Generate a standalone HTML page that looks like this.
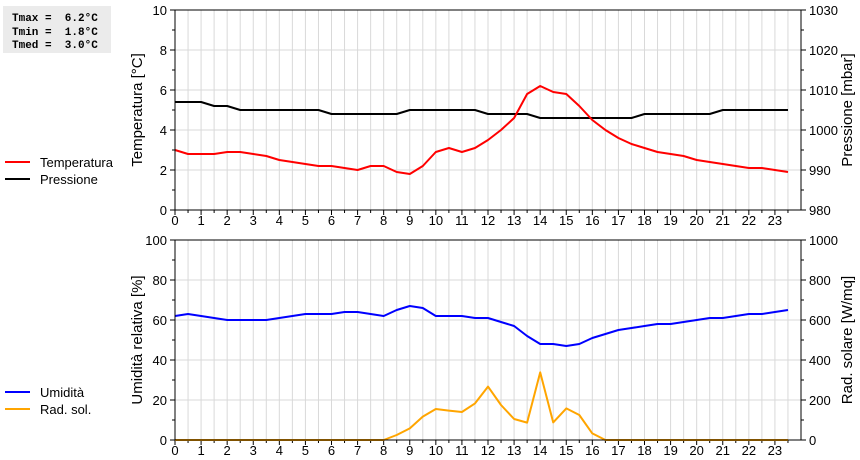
<!DOCTYPE html>
<html><head><meta charset="utf-8"><style>
body{margin:0;background:#fff;width:860px;height:460px;overflow:hidden;font-family:"Liberation Sans",sans-serif}
svg{display:block}
</style></head><body>
<svg id="c" width="860" height="460" xmlns="http://www.w3.org/2000/svg" font-family="Liberation Sans, sans-serif" font-size="13">
<rect x="3" y="6" width="108" height="47" fill="#ebebeb"/>
<g font-family="Liberation Mono, monospace" font-weight="bold" font-size="11" fill="#000">
<text x="12" y="21" xml:space="preserve">Tmax =  6.2°C</text>
<text x="12" y="35" xml:space="preserve">Tmin =  1.8°C</text>
<text x="12" y="48" xml:space="preserve">Tmed =  3.0°C</text>
</g>
<g>
<line x1="5" y1="162" x2="30" y2="162" stroke="#f00" stroke-width="2"/><text x="40" y="167">Temperatura</text>
<line x1="5" y1="179" x2="30" y2="179" stroke="#000" stroke-width="2"/><text x="40" y="184">Pressione</text>
</g>
<g>
<line x1="5" y1="392" x2="30" y2="392" stroke="#00f" stroke-width="2"/><text x="40" y="397">Umidità</text>
<line x1="5" y1="409" x2="30" y2="409" stroke="#ffa500" stroke-width="2"/><text x="40" y="414">Rad. sol.</text>
</g>
<text transform="translate(142,110) rotate(-90)" text-anchor="middle" font-size="15">Temperatura [°C]</text>
<text transform="translate(852,110) rotate(-90)" text-anchor="middle" font-size="15">Pressione [mbar]</text>
<text transform="translate(142,340) rotate(-90)" text-anchor="middle" font-size="15">Umidità relativa [%]</text>
<text transform="translate(852,340) rotate(-90)" text-anchor="middle" font-size="15">Rad. solare [W/mq]</text>
</svg>
<script>
const hours=[0,0.5,1,1.5,2,2.5,3,3.5,4,4.5,5,5.5,6,6.5,7,7.5,8,8.5,9,9.5,10,10.5,11,11.5,12,12.5,13,13.5,14,14.5,15,15.5,16,16.5,17,17.5,18,18.5,19,19.5,20,20.5,21,21.5,22,22.5,23,23.5];
const temperatura=[3.0,2.8,2.8,2.8,2.9,2.9,2.8,2.7,2.5,2.4,2.3,2.2,2.2,2.1,2.0,2.2,2.2,1.9,1.8,2.2,2.9,3.1,2.9,3.1,3.5,4.0,4.6,5.8,6.2,5.9,5.8,5.2,4.5,4.0,3.6,3.3,3.1,2.9,2.8,2.7,2.5,2.4,2.3,2.2,2.1,2.1,2.0,1.9];
const pressione=[1007,1007,1007,1006,1006,1005,1005,1005,1005,1005,1005,1005,1004,1004,1004,1004,1004,1004,1005,1005,1005,1005,1005,1005,1004,1004,1004,1004,1003,1003,1003,1003,1003,1003,1003,1003,1004,1004,1004,1004,1004,1004,1005,1005,1005,1005,1005,1005];
const umidita=[62,63,62,61,60,60,60,60,61,62,63,63,63,64,64,63,62,65,67,66,62,62,62,61,61,59,57,52,48,48,47,48,51,53,55,56,57,58,58,59,60,61,61,62,63,63,64,65];
const radiazione=[0,0,0,0,0,0,0,0,0,0,0,0,0,0,0,0,0,25,58,117,155,147,140,183,267,175,105,87,338,88,158,125,33,0,0,0,0,0,0,0,0,0,0,0,0,0,0,0];
const tempTicks=[0,2,4,6,8,10];
const pressTicks=[980,990,1000,1010,1020,1030];
const humTicks=[0,20,40,60,80,100];
const radTicks=[0,200,400,600,800,1000];
const xTicks=[0,1,2,3,4,5,6,7,8,9,10,11,12,13,14,15,16,17,18,19,20,21,22,23];
const NS='http://www.w3.org/2000/svg';
const svg=document.getElementById('c');
const X0=175,X1=801;
const xs=h=>X0+h*(X1-X0)/24;
function mk(t,a,p){const e=document.createElementNS(NS,t);for(const k in a)e.setAttribute(k,a[k]);(p||svg).appendChild(e);return e;}
function panel(top,bot,lTicks,rTicks,lMin,lMax,rMin,rMax,series,nm){
  const g=mk('g',{});
  
  
  const yl=v=>bot-(v-lMin)/(lMax-lMin)*(bot-top);
  const yr=v=>bot-(v-rMin)/(rMax-rMin)*(bot-top);
  for(let h=0.5;h<24;h+=0.5){const gl=mk('line',{x1:xs(h),x2:xs(h),y1:top,y2:bot,stroke:'#d9d9d9','stroke-width':1},g);}
  for(let i=0;i<lTicks.length;i++){const y=yl(lTicks[i]);mk('line',{x1:X0,x2:X1,y1:y,y2:y,stroke:'#d9d9d9'},g);}
  for(let i=0;i<lTicks.length;i++){const v=lTicks[i],y=yl(v);
    mk('line',{x1:X0-5,x2:X0,y1:y,y2:y,stroke:'#000'},g);
    if(i<lTicks.length-1){const m=yl((v+lTicks[i+1])/2);mk('line',{x1:X0-3,x2:X0,y1:m,y2:m,stroke:'#000'},g);}
    const t=mk('text',{x:X0-8,y:y+5,'text-anchor':'end'},g);t.textContent=v;
    
    }
  for(let i=0;i<rTicks.length;i++){const v=rTicks[i],y=yr(v);
    mk('line',{x1:X1,x2:X1+5,y1:y,y2:y,stroke:'#000'},g);
    if(i<rTicks.length-1){const m=yr((v+rTicks[i+1])/2);mk('line',{x1:X1,x2:X1+3,y1:m,y2:m,stroke:'#000'},g);}
    const t=mk('text',{x:X1+8,y:y+5},g);t.textContent=v;
    
    }
  for(let h=0;h<24;h+=0.5){mk('line',{x1:xs(h),x2:xs(h),y1:bot,y2:bot+(h%1?3:5),stroke:'#000'},g);}
  for(const h of xTicks){const t=mk('text',{x:xs(h),y:bot+15,'text-anchor':'middle'},g);t.textContent=h;
    
    }
  for(const s of series){
    const ys=s.axis==='l'?yl:yr;
    const pts=s.data.map((v,i)=>xs(hours[i]).toFixed(1)+','+ys(v).toFixed(1)).join(' ');
    const pl=mk('polyline',{points:pts,fill:'none',stroke:s.color,'stroke-width':2,'stroke-linejoin':'round'},g);
    
    
  }
  mk('rect',{x:X0,y:top,width:X1-X0,height:bot-top,fill:'none',stroke:'#000'},g);
}
panel(10,210,tempTicks,pressTicks,0,10,980,1030,[
  {data:pressione,axis:'r',color:'#000',name:'pressure-line'},
  {data:temperatura,axis:'l',color:'#f00',name:'temperature-line'}],'top');
panel(240,440,humTicks,radTicks,0,100,0,1000,[
  {data:radiazione,axis:'r',color:'#ffa500',name:'radiation-line'},
  {data:umidita,axis:'l',color:'#00f',name:'humidity-line'}],'bottom');
</script>
</body></html>
